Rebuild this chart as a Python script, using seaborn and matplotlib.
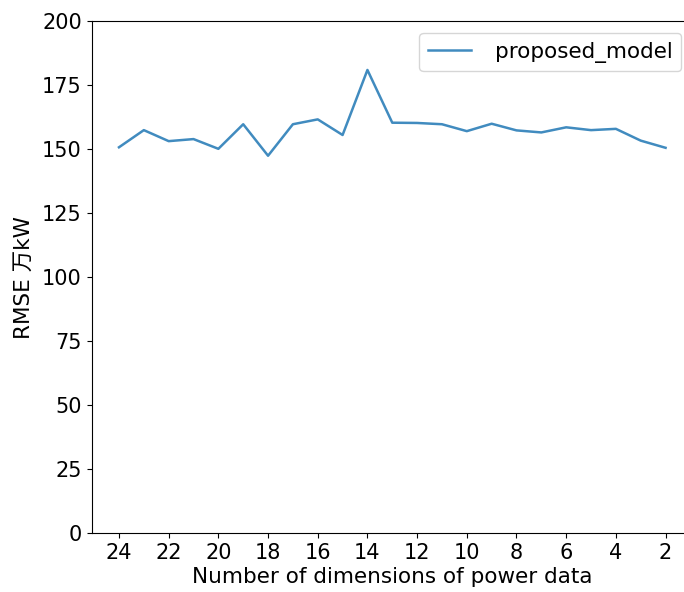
import matplotlib
matplotlib.use("Agg")
import matplotlib.pyplot as plt
import seaborn as sns
import pandas as pd

# Dataset: RMSE vs number of dimensions of power data
dims = [24, 23, 22, 21, 20, 19, 18, 17, 16, 15, 14, 13, 12, 11, 10, 9, 8, 7, 6, 5, 4, 3, 2]
rmse = [150.8, 157.5, 153.2, 154.0, 150.2, 159.8, 147.5, 159.8, 161.7, 155.6, 181.0, 160.4,
        160.3, 159.8, 157.1, 160.0, 157.4, 156.6, 158.6, 157.5, 158.0, 153.4, 150.6]
xticks = [24, 22, 20, 18, 16, 14, 12, 10, 8, 6, 4, 2]
yticks = [0, 25, 50, 75, 100, 125, 150, 175, 200]

df = pd.DataFrame({"dims": dims, "rmse": rmse})

plt.rcParams['font.family'] = ['DejaVu Sans', 'Noto Sans CJK SC']

fig = plt.figure(figsize=(6.84, 5.92), dpi=100)
ax = fig.add_axes([0.134, 0.099, 0.879, 0.865])

sns.lineplot(data=df, x="dims", y="rmse", ax=ax, color="#1f77b4", alpha=0.85,
             linewidth=1.8, label="proposed_model")

ax.set_xlim(25.1, 0.9)
ax.set_ylim(0, 200)
ax.set_xticks(xticks)
ax.set_yticks(yticks)
ax.tick_params(labelsize=15)
ax.set_xlabel("Number of dimensions of power data", fontsize=15.5, labelpad=3)
ax.set_ylabel("RMSE 万kW", fontsize=15.5, labelpad=6)
ax.legend(loc="upper right", fontsize=15.5, handletextpad=1.1, borderaxespad=0.55)

fig.savefig("out.png", dpi=100)
